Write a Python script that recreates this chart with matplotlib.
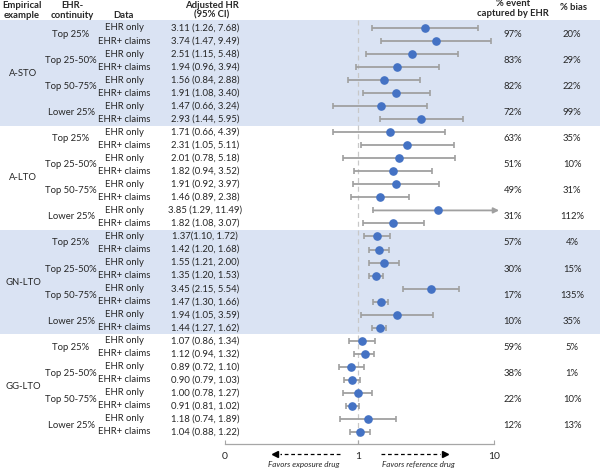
import numpy as np
import matplotlib.pyplot as plt

plt.rcParams['font.family'] = ['Lato', 'DejaVu Sans']

examples = ["A-STO", "A-LTO", "GN-LTO", "GG-LTO"]
continuity = ["Top 25%", "Top 25-50%", "Top 50-75%", "Lower 25%"]
data_types = ["EHR only", "EHR+ claims"]
shaded = [True, False, True, False]

hr = [3.11, 3.74, 2.51, 1.94, 1.56, 1.91, 1.47, 2.93,
      1.71, 2.31, 2.01, 1.82, 1.91, 1.46, 3.85, 1.82,
      1.37, 1.42, 1.55, 1.35, 3.45, 1.47, 1.94, 1.44,
      1.07, 1.12, 0.89, 0.90, 1.00, 0.91, 1.18, 1.04]
lo = [1.26, 1.47, 1.15, 0.96, 0.84, 1.08, 0.66, 1.44,
      0.66, 1.05, 0.78, 0.94, 0.92, 0.89, 1.29, 1.08,
      1.10, 1.20, 1.21, 1.20, 2.15, 1.30, 1.05, 1.27,
      0.86, 0.94, 0.72, 0.79, 0.78, 0.81, 0.74, 0.88]
hi = [7.68, 9.49, 5.48, 3.94, 2.88, 3.40, 3.24, 5.95,
      4.39, 5.11, 5.18, 3.52, 3.97, 2.38, 11.49, 3.07,
      1.72, 1.68, 2.00, 1.53, 5.54, 1.66, 3.59, 1.62,
      1.34, 1.32, 1.10, 1.03, 1.27, 1.02, 1.89, 1.22]

pct_event = ["97%", "83%", "82%", "72%", "63%", "51%", "49%", "31%",
             "57%", "30%", "17%", "10%", "59%", "38%", "22%", "12%"]
pct_bias = ["20%", "29%", "22%", "99%", "35%", "10%", "31%", "112%",
            "4%", "15%", "135%", "35%", "5%", "1%", "10%", "13%"]

# pixel -> row helpers (figure is 600x470 px)
ROW0, ROWH = 28, 13.03


def row(px):
    return (px - ROW0) / ROWH


def xpos(px):
    return 10 ** ((px - 358) / 136.0)


fs = 6.8
txt = "#262626"
fig = plt.figure(figsize=(6, 4.7), dpi=100)

bg = fig.add_axes([0, 0, 1, 1])
bg.set_xlim(0, 600)
bg.set_ylim(row(470), row(0))
bg.axis("off")

n_rows = len(hr)
rows = np.arange(n_rows)

for g, name in enumerate(examples):
    if shaded[g]:
        top = g * 8 - 0.5 if g > 0 else row(20)
        bg.axhspan(top, g * 8 + 7.5, color="#DAE3F3", lw=0, zorder=0)
    bg.text(23, g * 8 + 3.5, name, ha="center", va="center", fontsize=fs, color=txt)
    for k, c in enumerate(continuity):
        y = g * 8 + k * 2 + 0.5
        bg.text(71, y, c, ha="center", va="center", fontsize=fs, color=txt)
        bg.text(513, y, pct_event[g * 4 + k], ha="center", va="center", fontsize=fs, color=txt)
        bg.text(572, y, pct_bias[g * 4 + k], ha="center", va="center", fontsize=fs, color=txt)

hr_labels = [f"{h:.2f} ({l:.2f}, {u:.2f})" for h, l, u in zip(hr, lo, hi)]
hr_labels[16] = hr_labels[16].replace(" (", "(", 1)
for i in rows:
    bg.text(124, i, data_types[i % 2], ha="center", va="center", fontsize=fs, color=txt)
    bg.text(205, i, hr_labels[i], ha="center", va="center", fontsize=fs, color=txt)

# headers
hkw = dict(ha="center", va="center", fontsize=fs, fontweight="bold", color=txt)
bg.text(22, row(5), "Empirical", **hkw)
bg.text(22, row(15), "example", **hkw)
bg.text(72, row(5), "EHR-", **hkw)
bg.text(72, row(15), "continuity", **hkw)
bg.text(123, row(15), "Data", **hkw)
bg.text(212, row(5), "Adjusted HR", **hkw)
bg.text(212, row(15), "(95% CI)", **hkw)
bg.text(513, row(3), "% event", **hkw)
bg.text(513, row(14), "captured by EHR", **hkw)
bg.text(574, row(8), "% bias", **hkw)

# favors arrows
ya = row(454)
bg.plot([340, 280], [ya, ya], ls=(0, (3, 2.2)), color="black", lw=0.9)
bg.plot([275], [ya], marker="<", color="black", ms=4)
bg.plot([381, 440], [ya, ya], ls=(0, (3, 2.2)), color="black", lw=0.9)
bg.plot([445], [ya], marker=">", color="black", ms=4)
bg.text(304, row(464), "Favors exposure drug", ha="center", va="center",
        fontsize=5.8, style="italic", color=txt)
bg.text(418, row(464), "Favors reference drug", ha="center", va="center",
        fontsize=5.8, style="italic", color=txt)

# forest plot axes
ax_bottom = 444
fa = fig.add_axes([225 / 600, (470 - ax_bottom) / 470, 269 / 600, ax_bottom / 470])
fa.patch.set_alpha(0)
fa.set_xscale("log")
xmin, xmax = xpos(225), 10
fa.set_xlim(xmin, xmax)
fa.set_ylim(row(ax_bottom), row(0))
for s in ["top", "left", "right"]:
    fa.spines[s].set_visible(False)
fa.spines["bottom"].set_color("#A6A6A6")
fa.spines["bottom"].set_linewidth(0.9)
fa.set_yticks([])
fa.set_xticks([xmin, 1, 10])
fa.set_xticklabels(["0", "1", "10"])
fa.xaxis.set_minor_locator(plt.NullLocator())
fa.tick_params(axis="x", direction="in", length=3, color="#A6A6A6",
               labelsize=7.5, labelcolor=txt, pad=6)

fa.plot([1, 1], [row(20), row(ax_bottom)], ls=(0, (4, 3)), color="#C8C8C8", lw=0.9, zorder=1)

hr_a, lo_a, hi_a = np.array(hr), np.array(lo), np.array(hi)
inside = hi_a <= xmax
fa.errorbar(hr_a[inside], rows[inside],
            xerr=[hr_a[inside] - lo_a[inside], hi_a[inside] - hr_a[inside]],
            fmt="none", ecolor="#A0A0A0", elinewidth=1.3, capsize=2.5, capthick=1.2, zorder=2)
for i in rows[~inside]:
    fa.annotate("", xy=(xmax * 1.09, i), xytext=(lo_a[i], i),
                arrowprops=dict(arrowstyle="-|>", color="#A0A0A0", lw=1.3,
                                shrinkA=0, shrinkB=0, mutation_scale=8),
                annotation_clip=False, zorder=2)
    fa.plot([lo_a[i]], [i], marker="|", color="#A0A0A0", ms=5, mew=1.2, zorder=2)
fa.plot(hr_a, rows, "o", color="#4472C4", ms=5.2, zorder=3, clip_on=False)

plt.savefig("out.png", dpi=100)
plt.close()
